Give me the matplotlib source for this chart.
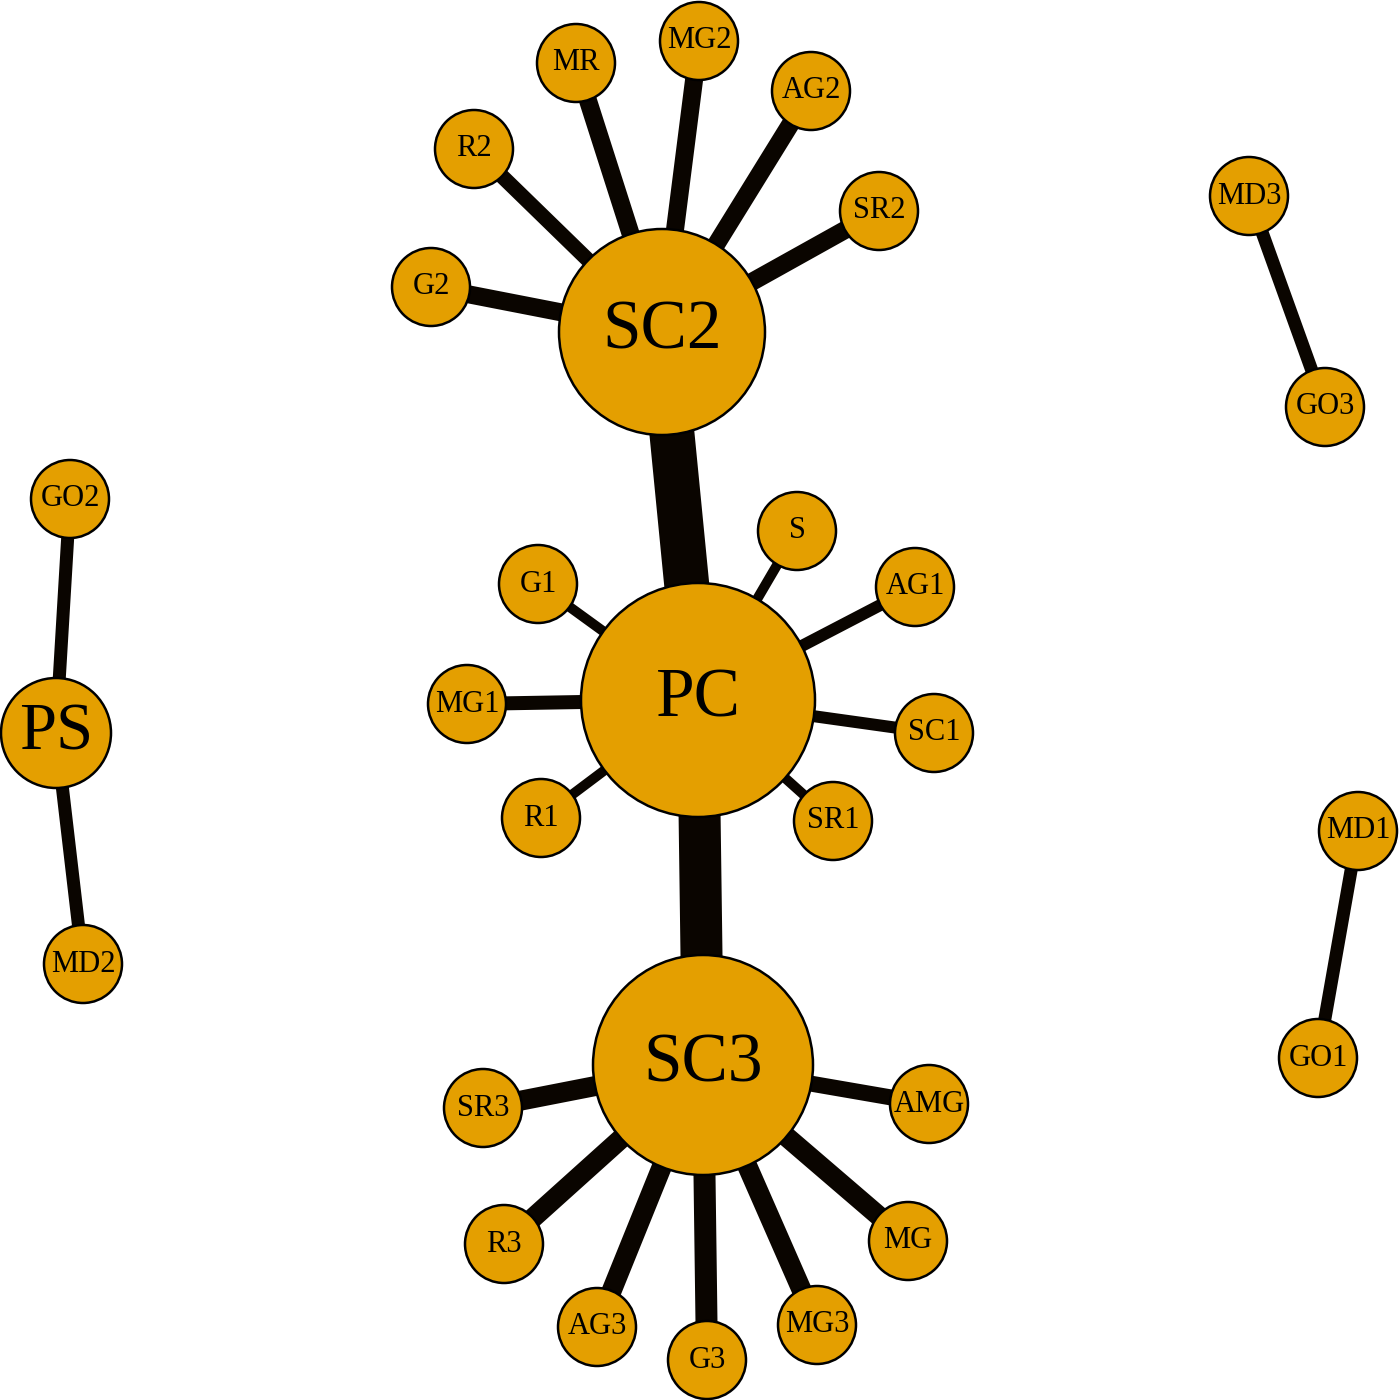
import matplotlib
matplotlib.use("Agg")
import matplotlib.pyplot as plt
from matplotlib.patches import Circle

# node name, x, y (pixel layout), radius
names = ["SC2", "PC", "SC3", "PS",
         "MR", "MG2", "AG2", "R2", "SR2", "G2",
         "MD3", "GO3", "GO2", "MD2",
         "S", "G1", "AG1", "MG1", "SC1", "R1", "SR1",
         "MD1", "GO1",
         "SR3", "AMG", "R3", "MG", "AG3", "G3", "MG3"]
xs = [662, 698, 703, 56,
      576, 699, 811, 474, 879, 431,
      1249, 1325, 70, 83,
      797, 538, 915, 467, 934, 541, 833,
      1358, 1318,
      483, 929, 504, 908, 597, 707, 817]
ys = [332, 700, 1065, 733,
      63, 41, 91, 149, 211, 287,
      196, 407, 499, 964,
      531, 584, 587, 704, 733, 818, 821,
      831, 1058,
      1108, 1104, 1244, 1241, 1327, 1360, 1325]
radii = [103, 117, 110, 55] + [39] * 26
label_sizes = [50, 50, 50, 48] + [22] * 26

# edges and their widths (px)
edges = [("SC2", "PC", 45), ("PC", "SC3", 42),
         ("SC2", "G2", 18), ("SC2", "R2", 15), ("SC2", "MR", 18), ("SC2", "MG2", 18),
         ("SC2", "AG2", 18), ("SC2", "SR2", 18),
         ("PC", "S", 10), ("PC", "G1", 10), ("PC", "AG1", 12), ("PC", "MG1", 14),
         ("PC", "SC1", 12), ("PC", "R1", 10), ("PC", "SR1", 10),
         ("SC3", "SR3", 20), ("SC3", "AMG", 16), ("SC3", "R3", 20), ("SC3", "MG", 20),
         ("SC3", "AG3", 20), ("SC3", "G3", 22), ("SC3", "MG3", 20),
         ("MD3", "GO3", 13), ("PS", "GO2", 13), ("PS", "MD2", 13), ("MD1", "GO1", 13)]

pos = {n: (x, y) for n, x, y in zip(names, xs, ys)}

fig = plt.figure(figsize=(14, 14), dpi=100)
ax = fig.add_axes([0, 0, 1, 1])
ax.set_xlim(0, 1400)
ax.set_ylim(1400, 0)
ax.set_aspect("equal")
ax.axis("off")

for a, b, w in edges:
    ax.plot([pos[a][0], pos[b][0]], [pos[a][1], pos[b][1]],
            color="#0a0500", lw=w * 0.72, solid_capstyle="butt", zorder=1)

for n, x, y, r, fs in zip(names, xs, ys, radii, label_sizes):
    ax.add_patch(Circle((x, y), r, facecolor="#E49F00", edgecolor="black", lw=1.8, zorder=2))
    ax.text(x, y, n, ha="center", va="center", fontsize=fs,
            family="Liberation Serif", zorder=3)

fig.savefig("out.png", dpi=100)
